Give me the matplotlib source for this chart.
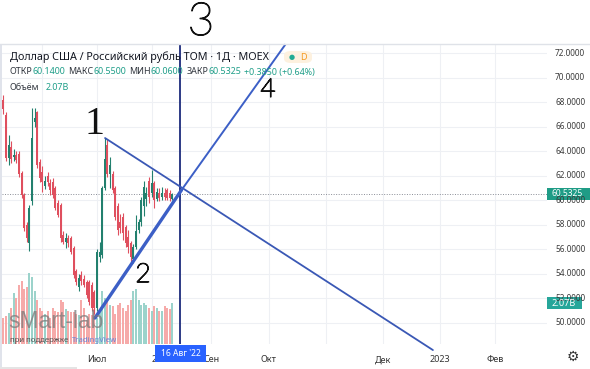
import matplotlib
matplotlib.use('Agg')
import matplotlib.pyplot as plt
import matplotlib.patheffects as pe
from matplotlib.patches import Rectangle, FancyBboxPatch

# ---------------- data ----------------
opens = [68.2, 66.95, 63.45, 64.3, 63.5, 63.7, 63.8, 62.2, 60.4, 58.0,
         56.5, 59.9, 66.4, 67.2, 63.1, 62.3, 61.2, 62.0, 61.4, 61.5,
         61.0, 59.8, 59.6, 57.2, 56.6, 56.9, 56.9, 56.1, 54.2, 52.9,
         53.9, 53.6, 53.3, 53.3, 53.1, 52.5, 51.2, 55.4, 55.5, 61.0,
         64.5, 62.1, 62.1, 61.0, 59.5, 58.2, 58.6, 57.8, 57.0, 56.5,
         55.2, 56.2, 57.6, 58.2, 59.5, 60.1, 61.6, 60.6, 61.4, 60.1,
         60.6, 60.3, 60.6, 60.8, 60.6, 60.14]
highs = [68.6, 67.2, 65.3, 64.8, 64.2, 64.0, 64.0, 62.4, 60.6, 58.2,
         59.6, 67.5, 67.5, 67.3, 63.4, 62.8, 62.0, 62.3, 61.7, 61.8,
         61.2, 60.0, 59.8, 57.5, 57.3, 57.2, 57.1, 56.3, 54.4, 54.0,
         54.2, 53.9, 53.5, 53.5, 53.3, 52.7, 56.0, 56.6, 61.2, 65.1,
         65.0, 63.5, 62.4, 61.2, 59.8, 58.9, 59.0, 58.0, 57.6, 56.7,
         56.4, 58.8, 58.5, 60.3, 61.6, 61.1, 61.9, 62.5, 61.6, 61.0,
         61.0, 61.1, 61.0, 61.0, 60.8, 60.55]
lows = [67.0, 63.2, 62.9, 63.0, 63.2, 63.0, 61.9, 60.2, 57.5, 56.6,
        55.9, 59.6, 66.0, 62.6, 61.5, 60.7, 60.9, 61.2, 60.4, 60.2,
        59.2, 58.6, 56.6, 56.4, 56.1, 56.2, 55.6, 53.7, 53.1, 52.6,
        53.1, 52.9, 52.0, 51.5, 51.0, 50.7, 51.0, 55.0, 55.3, 60.8,
        61.9, 61.0, 60.6, 58.4, 57.2, 57.3, 56.8, 56.2, 55.7, 55.0,
        54.9, 56.0, 57.3, 57.9, 58.7, 59.5, 59.8, 60.3, 59.4, 59.9,
        59.9, 60.0, 60.0, 60.0, 59.9, 60.06]
closes = [67.4, 63.44, 64.5, 63.4, 63.7, 63.3, 62.1, 60.4, 57.7, 56.9,
          59.4, 65.1, 66.7, 62.9, 61.8, 61.5, 61.6, 61.5, 60.8, 60.4,
          59.4, 58.8, 56.9, 56.6, 56.9, 56.5, 55.8, 53.9, 53.3, 53.7,
          53.4, 53.1, 52.3, 51.7, 51.2, 51.2, 55.8, 55.8, 61.0, 63.4,
          62.1, 62.9, 60.8, 58.6, 57.6, 57.7, 57.3, 56.5, 56.2, 55.4,
          56.2, 57.5, 58.2, 60.0, 61.1, 60.6, 60.3, 61.4, 60.0, 60.7,
          60.2, 60.6, 60.3, 60.2, 60.15, 60.5325]
volumes_b = [1.3, 1.4, 1.55, 1.8, 2.6, 2.3, 3.0, 3.2, 2.8, 2.9,
             3.6, 3.4, 2.7, 2.2, 1.8, 1.65, 1.5, 1.65, 1.3, 1.8,
             1.65, 1.6, 2.2, 2.1, 1.75, 1.65, 1.6, 1.6, 1.5, 1.45,
             2.2, 1.8, 1.2, 1.5, 1.45, 1.75, 1.3, 1.65, 2.7, 2.3,
             2.2, 1.95, 1.9, 1.5, 1.95, 2.05, 1.8, 1.65, 1.95, 2.2,
             2.7, 2.8, 2.2, 1.95, 2.05, 1.95, 1.8, 1.65, 1.9, 1.8,
             1.65, 1.65, 1.9, 1.8, 1.75, 2.07]

price_ticks = [50, 52, 54, 56, 58, 60, 62, 64, 66, 68, 70, 72]
time_tick_bars = [36, 59, 80, 102, 146, 168, 189]
time_tick_labels = ['Июл', '22', 'Сен', 'Окт', 'Дек', '2023', 'Фев']
grid_bars = [15, 36, 57, 80, 102, 124, 146, 168, 189]

last_price = 60.5325
last_volume_b = 2.07
cursor_bar = 68
cursor_label = "16 Авг '22"

title = 'Доллар США / Российский рубль ТОМ · 1Д · MOEX'
ohlc_labels = ['ОТКР', 'МАКС', 'МИН', 'ЗАКР']
ohlc_values = ['60.1400', '60.5500', '60.0600', '60.5325']
change_text = '+0.3850 (+0.64%)'
volume_label = 'Объём'
hand_labels = ['1', '2', '3', '4']

# hand-drawn trend lines (bar index, price)
line1_bars = [39.1, 165.2]
line1_prices = [65.07, 47.79]
line2a_bars = [35.2, 68.5]
line2a_prices = [50.40, 60.83]
line2b_bars = [68.5, 108.3]
line2b_prices = [60.83, 72.65]

# ---------------- layout ----------------
W, H = 590, 369
PX_PER_BAR = 2.6
X0 = 3.4
PX_PER_UNIT = 12.27
Y_REF = 53.0      # pixel y of price 72
P_REF = 72.0
L, R, T, B = 2, 547, 44.5, 344

RED = '#df4f5e'
GREEN = '#22806e'
VRED = '#f6aaa9'
VGREEN = '#9cd3cb'
TEAL = '#1f9e89'
DARK = '#131722'
GRID = '#eef0f4'

plt.rcParams['font.family'] = ['Noto Sans', 'DejaVu Sans']

fig = plt.figure(figsize=(W / 100, H / 100), dpi=100)
fig.patch.set_facecolor('white')


def fx(x):
    return x / W


def fy(y):
    return 1 - y / H


ax = fig.add_axes([fx(L), fy(B), (R - L) / W, (B - T) / H])
ax.set_facecolor('white')
ax.set_xlim((L - X0) / PX_PER_BAR, (R - X0) / PX_PER_BAR)
ax.set_ylim(P_REF - (B - Y_REF) / PX_PER_UNIT, P_REF + (Y_REF - T) / PX_PER_UNIT)
for s in ax.spines.values():
    s.set_visible(False)
ax.set_yticks([])
ax.set_xticks(time_tick_bars, time_tick_labels)
ax.tick_params(axis='x', length=0, pad=8, labelsize=6.5, colors='#333333')

# grid
for p in price_ticks:
    ax.axhline(p, color=GRID, lw=0.8, zorder=0)
for gb in grid_bars:
    ax.axvline(gb, color=GRID, lw=0.8, zorder=0)

# volume (bottom overlay, axes-fraction heights)
VOL_TOP = last_volume_b * (B - T) / 41.0
xs = list(range(len(opens)))
vcols = [VGREEN if c >= o else VRED for o, c in zip(opens, closes)]
ax.bar(xs, [v / VOL_TOP for v in volumes_b], width=0.72, color=vcols,
       transform=ax.get_xaxis_transform(), zorder=1)

# candles
ccols = [GREEN if c >= o else RED for o, c in zip(opens, closes)]
ax.vlines(xs, lows, highs, colors=ccols, lw=0.8, zorder=3)
ax.bar(xs, [max(abs(c - o), 0.06) for o, c in zip(opens, closes)],
       bottom=[min(o, c) for o, c in zip(opens, closes)],
       width=0.72, color=ccols, zorder=4)

# last price dotted line
ax.axhline(last_price, color='#8a8d96', lw=0.7, ls=(0, (1, 1.6)), zorder=2)

# vertical cursor line
ax.axvline(cursor_bar, color='#1d2b7c', lw=1.3, zorder=6)

# trend lines
ax.plot(line1_bars, line1_prices, color='#3a58b5', lw=1.3, zorder=7, clip_on=False,
        solid_capstyle='round')
ax.plot(line2a_bars, line2a_prices, color='#3c5fc6', lw=2.4, zorder=7, clip_on=False,
        solid_capstyle='round')
ax.plot(line2b_bars, line2b_prices, color='#3c5fc6', lw=1.4, zorder=7, clip_on=False)

# ---------------- decorations in figure pixels ----------------
fig.add_artist(Rectangle((0, fy(369)), fx(2), fy(44) - fy(369), transform=fig.transFigure,
                         facecolor='#e0e3eb', edgecolor='none'))
fig.add_artist(plt.Line2D([0, 1], [fy(44), fy(44)], transform=fig.transFigure,
                          color='#dfe2e8', lw=1.0))
fig.add_artist(Rectangle((0, 0), fx(77), fy(367), transform=fig.transFigure,
                         facecolor='#e4e4e4', edgecolor='none'))

fig.canvas.draw()
rend = fig.canvas.get_renderer()


def width_of(t):
    return t.get_window_extent(rend).width


def fit(x, y, s, target_w, fs0=8, ha='left', **kw):
    t = fig.text(fx(x), fy(y), s, fontsize=fs0, ha=ha, va='center', **kw)
    w = width_of(t)
    t.set_fontsize(fs0 * target_w / w)
    return t


def runs(x, y, parts, fs, gap_px):
    texts = []
    cur = x
    for s, c, g in parts:
        cur += g * gap_px
        t = fig.text(fx(cur), fy(y), s, fontsize=fs, color=c, ha='left', va='center')
        cur += width_of(t)
        texts.append(t)
    return texts, cur - x


# title
fit(10, 57, title, 262, color=DARK)

# pill
fig.add_artist(FancyBboxPatch((fx(284), fy(63)), fx(28), fy(51) - fy(63),
                              boxstyle='round,pad=0,rounding_size=0.012',
                              transform=fig.transFigure, facecolor='#fdf1df',
                              edgecolor='none'))
fig.text(fx(292), fy(57), '●', fontsize=5, color='#22ab94', ha='center', va='center',
         family='DejaVu Sans')
fig.text(fx(303), fy(57.5), 'D', fontsize=6.5, color='#f59a23', ha='center', va='center')

# OHLC line
parts = []
for k, (lab, val) in enumerate(zip(ohlc_labels, ohlc_values)):
    parts.append((lab, '#333840', 0 if k == 0 else 1))
    parts.append((val, TEAL, 0))
parts.append((change_text, TEAL, 1))
texts, total = runs(10, 72, parts, 6.5, 3.0)
for t in texts:
    t.remove()
fs_ohlc = 6.5 * 308 / total
runs(10, 72, parts, fs_ohlc, 3.0 * fs_ohlc / 6.5)

# volume legend
runs(10, 88, [(volume_label, '#333840', 0), ('%.2fB' % last_volume_b, TEAL, 1)],
     fs_ohlc, 6.0)

# price axis labels
for p in price_ticks:
    fit(555, Y_REF + (P_REF - p) * PX_PER_UNIT, '%.4f' % p, 30, color='#3a3a3a')

# last price box
yp = Y_REF + (P_REF - last_price) * PX_PER_UNIT
fig.add_artist(Rectangle((fx(547), fy(yp + 6)), fx(43), fy(yp - 6) - fy(yp + 6),
                         transform=fig.transFigure, facecolor='#1f9c86', edgecolor='none'))
fit(551, yp, '%.4f' % last_price, 31, color='white')

# volume box
yv = B - 41
fig.add_artist(Rectangle((fx(547), fy(yv + 6)), fx(35), fy(yv - 6) - fy(yv + 6),
                         transform=fig.transFigure, facecolor='#26a69a', edgecolor='none'))
fit(551, yv, '%.2fB' % last_volume_b, 24, color='white')

# cursor date box
cx = X0 + cursor_bar * PX_PER_BAR
fig.add_artist(Rectangle((fx(cx - 25), fy(362)), fx(51), fy(345) - fy(362),
                         transform=fig.transFigure, facecolor='#2962ff', edgecolor='none'))
fit(cx + 0.5, 354, cursor_label, 40, ha='center', color='white')

# gear icon
fig.text(fx(573), fy(357), '⚙', fontsize=10, color='#333333', ha='center', va='center',
         family='DejaVu Sans')

# watermark
fit(8, 321, 'sMart-lab', 96, fs0=16, color='#7a7a7a', alpha=0.75, family='Liberation Sans')
runs(10, 340, [('при поддержке', '#555555', 0), ('TradingView', '#6a86d8', 1)], 5.6, 4.0)

# handwritten annotations (baseline-anchored)
thick = [pe.withStroke(linewidth=0.9, foreground='#111111')]
hand = dict(color='#111111', ha='center', va='baseline', family='Lato',
            fontweight='light', path_effects=thick)
fig.text(fx(95), fy(134), hand_labels[0], fontsize=29, color='#111111', ha='center',
         va='baseline', family='Liberation Serif')
fig.text(fx(143), fy(282), hand_labels[1], fontsize=19, **hand)
fig.text(fx(201), fy(35), hand_labels[2], fontsize=33, **hand)
fig.text(fx(268), fy(97), hand_labels[3], fontsize=19, **hand)

fig.savefig('out.png', dpi=100, facecolor='white')
